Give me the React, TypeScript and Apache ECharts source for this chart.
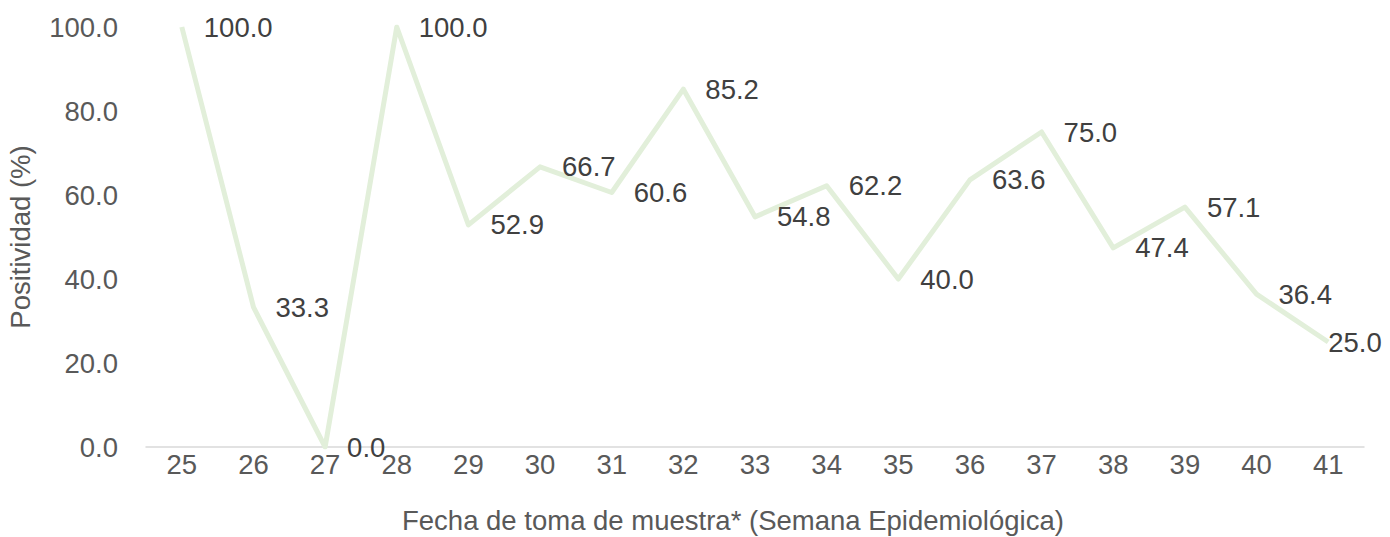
import React, { useEffect, useRef } from "react";
import * as echarts from "echarts";

const categories = ["25","26","27","28","29","30","31","32","33","34","35","36","37","38","39","40","41"];
const positividad = [100.0, 33.3, 0.0, 100.0, 52.9, 66.7, 60.6, 85.2, 54.8, 62.2, 40.0, 63.6, 75.0, 47.4, 57.1, 36.4, 25.0];
const yTitle = "Positividad (%)";
const xTitle = "Fecha de toma de muestra* (Semana Epidemiológica)";

const FONT = "'Liberation Sans', Arial, sans-serif";
const FS = 27.5;

export default function App() {
  const ref = useRef<HTMLDivElement>(null);
  useEffect(() => {
    if (!ref.current) return;
    const chart = echarts.init(ref.current, null, { renderer: "svg" });
    const last = positividad.length - 1;
    chart.setOption({
      animation: false,
      backgroundColor: "#ffffff",
      grid: { left: 146, right: 26, top: 27, bottom: 90, containLabel: false },
      xAxis: {
        type: "category",
        data: categories,
        boundaryGap: true,
        axisLine: { show: true, lineStyle: { color: "#d9d9d9", width: 1.5 } },
        axisTick: { show: false },
        axisLabel: { color: "#595959", fontSize: FS, fontFamily: FONT, margin: 3 },
      },
      yAxis: {
        type: "value",
        min: 0,
        max: 100,
        interval: 20,
        axisLine: { show: false },
        axisTick: { show: false },
        splitLine: { show: false },
        axisLabel: {
          color: "#595959",
          fontSize: FS,
          fontFamily: FONT,
          margin: 28,
          formatter: (v: number) => v.toFixed(1),
        },
      },
      graphic: [
        {
          type: "text",
          left: 402,
          top: 506,
          style: { text: xTitle, fill: "#595959", fontSize: FS, fontFamily: FONT },
        },
        {
          type: "text",
          x: 6,
          y: 237,
          rotation: Math.PI / 2,
          style: {
            text: yTitle,
            fill: "#595959",
            fontSize: FS,
            fontFamily: FONT,
            align: "center",
            verticalAlign: "top",
          },
        },
      ],
      series: [
        {
          type: "line",
          data: positividad.map((v, i) =>
            i === last
              ? { value: v, label: { position: "right", distance: 0 } }
              : v
          ),
          symbol: "circle",
          symbolSize: 0,
          showSymbol: true,
          lineStyle: { color: "#e2efda", width: 5, join: "round" },
          itemStyle: { color: "#e2efda" },
          label: {
            show: true,
            position: "right",
            distance: 22,
            color: "#404040",
            fontSize: FS,
            fontFamily: FONT,
            formatter: (p: any) => Number(p.value).toFixed(1),
          },
        },
      ],
    });
    return () => chart.dispose();
  }, []);
  return (
    <div
      ref={ref}
      style={{ position: "fixed", left: 0, top: 0, width: 1390, height: 537 }}
    />
  );
}
